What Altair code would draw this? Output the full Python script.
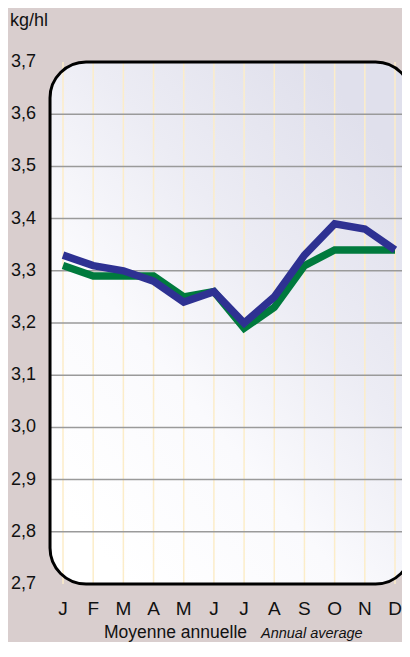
import altair as alt
import pandas as pd

months = ["J", "F", "M", "A", "M", "J", "J", "A", "S", "O", "N", "D"]
green_values = [3.31, 3.29, 3.29, 3.29, 3.25, 3.26, 3.19, 3.23, 3.31, 3.34, 3.34, 3.34]
blue_values = [3.33, 3.31, 3.30, 3.28, 3.24, 3.26, 3.20, 3.25, 3.33, 3.39, 3.38, 3.34]
y_ticks = [3.7, 3.6, 3.5, 3.4, 3.3, 3.2, 3.1, 3.0, 2.9, 2.8, 2.7]
y_tick_labels = ["3,7", "3,6", "3,5", "3,4", "3,3", "3,2", "3,1", "3,0", "2,9", "2,8", "2,7"]

FONT = "Liberation Sans, Arial, sans-serif"

W, H = 394, 634
X_LO, X_HI = -0.43, 11.55
Y_LO, Y_HI = 2.7, 3.7

idx = list(range(len(months)))
df_green = pd.DataFrame({"i": idx, "v": green_values})
df_blue = pd.DataFrame({"i": idx, "v": blue_values})
df_months = pd.DataFrame({"i": idx, "m": months})
df_yt = pd.DataFrame({"v": y_ticks, "t": y_tick_labels})
df_grid = pd.DataFrame({"v": y_ticks[1:-1], "a": X_LO, "b": X_HI})
df_panel = pd.DataFrame({"x0": [X_LO], "x1": [X_HI], "y0": [Y_LO], "y1": [Y_HI]})
df_vgrid = pd.DataFrame({"i": idx, "a": Y_LO, "b": Y_HI})

xs = alt.Scale(domain=[0, 11], range=[55, 387], nice=False, zero=False)
ys = alt.Scale(domain=[2.7, 3.7], range=[576, 54], nice=False, zero=False)

panel_fill = alt.Gradient(
    gradient="linear",
    stops=[alt.GradientStop(color="#e0e0ec", offset=0),
           alt.GradientStop(color="#ececf4", offset=0.35),
           alt.GradientStop(color="#fafafd", offset=0.65),
           alt.GradientStop(color="#ffffff", offset=1)],
    x1=0.85, y1=0.1, x2=0.15, y2=0.95,
)

panel = alt.Chart(df_panel).mark_rect(
    fill=panel_fill, cornerRadius=36
).encode(
    x=alt.X("x0:Q", scale=xs, axis=None), x2="x1:Q",
    y=alt.Y("y0:Q", scale=ys, axis=None), y2="y1:Q",
)

vgrid = alt.Chart(df_vgrid).mark_rule(color="#fcedc9", strokeWidth=1.5).encode(
    x=alt.X("i:Q", scale=xs, axis=None),
    y=alt.Y("a:Q", scale=ys, axis=None), y2="b:Q",
)

hgrid = alt.Chart(df_grid).mark_rule(color="#9a9a9a", strokeWidth=1.5).encode(
    y=alt.Y("v:Q", scale=ys, axis=None),
    x=alt.X("a:Q", scale=xs, axis=None), x2="b:Q",
)

border = alt.Chart(df_panel).mark_rect(
    fill="transparent", stroke="#000000", strokeWidth=3, cornerRadius=36
).encode(
    x=alt.X("x0:Q", scale=xs, axis=None), x2="x1:Q",
    y=alt.Y("y0:Q", scale=ys, axis=None), y2="y1:Q",
)

green_line = alt.Chart(df_green).mark_line(
    strokeWidth=7.5, strokeJoin="miter", strokeCap="butt", color="#007a3d"
).encode(
    x=alt.X("i:Q", scale=xs, axis=None),
    y=alt.Y("v:Q", scale=ys, axis=None),
)
blue_line = alt.Chart(df_blue).mark_line(
    strokeWidth=7.5, strokeJoin="miter", strokeCap="butt", color="#2e3192"
).encode(
    x=alt.X("i:Q", scale=xs, axis=None),
    y=alt.Y("v:Q", scale=ys, axis=None),
)

ylabels = alt.Chart(df_yt).mark_text(
    align="left", baseline="middle", font=FONT, fontSize=18, color="#111111"
).encode(
    x=alt.value(3),
    y=alt.Y("v:Q", scale=ys, axis=None),
    text="t:N",
)

xlabels = alt.Chart(df_months).mark_text(
    align="center", baseline="middle", font=FONT, fontSize=19, color="#111111"
).encode(
    x=alt.X("i:Q", scale=xs, axis=None),
    y=alt.value(601),
    text="m:N",
)

unit = alt.Chart(pd.DataFrame({"t": ["kg/hl"]})).mark_text(
    align="left", baseline="alphabetic", font=FONT, fontSize=18, color="#111111"
).encode(x=alt.value(2), y=alt.value(18), text="t:N")

foot1 = alt.Chart(pd.DataFrame({"t": ["Moyenne annuelle"]})).mark_text(
    align="left", baseline="alphabetic", font=FONT, fontSize=17.5, color="#111111"
).encode(x=alt.value(96), y=alt.value(630), text="t:N")

foot2 = alt.Chart(pd.DataFrame({"t": ["Annual average"]})).mark_text(
    align="left", baseline="alphabetic", font=FONT, fontSize=14.5, fontStyle="italic", color="#111111"
).encode(x=alt.value(253), y=alt.value(630), text="t:N")

chart = alt.layer(
    panel, vgrid, hgrid, green_line, blue_line, border, ylabels, xlabels, unit, foot1, foot2
).properties(
    width=W, height=H,
    autosize=alt.AutoSizeParams(type="none"),
    padding=0,
    background="#d9cece",
).configure_view(stroke=None)

chart.save("out.html", embed_options={"renderer": "svg", "actions": False})
